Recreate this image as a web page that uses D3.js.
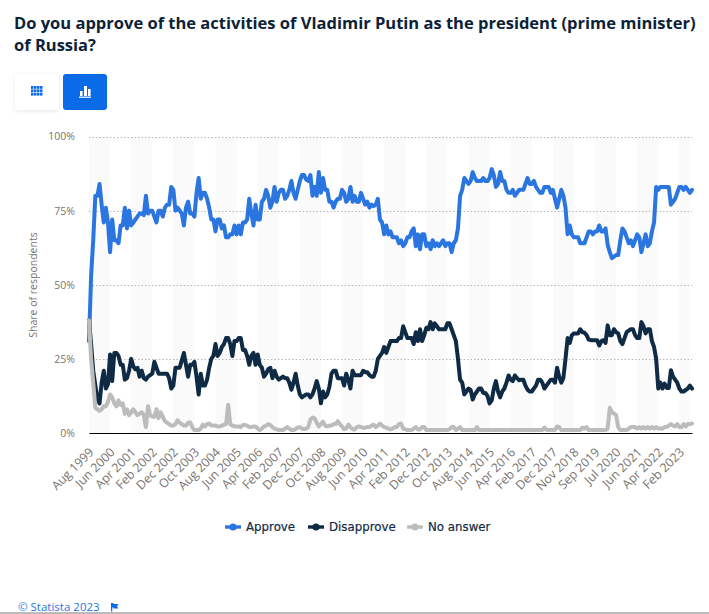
<!DOCTYPE html>
<html><head><meta charset="utf-8">
<script src="https://cdn.jsdelivr.net/npm/d3@7"></script>
<style>html,body{margin:0;padding:0;background:#fff;overflow:hidden}svg{display:block}</style>
</head><body><svg id="c" width="709" height="614"></svg>
<script>
const titleLines = ["Do you approve of the activities of Vladimir Putin as the president (prime minister)", "of Russia?"];
const tickLabels = ["Aug 1999","Jun 2000","Apr 2001","Feb 2002","Dec 2002","Oct 2003","Aug 2004","Jun 2005","Apr 2006","Feb 2007","Dec 2007","Oct 2008","Aug 2009","Jun 2010","Apr 2011","Feb 2012","Dec 2012","Oct 2013","Aug 2014","Jun 2015","Apr 2016","Feb 2017","Dec 2017","Nov 2018","Sep 2019","Jul 2020","Jun 2021","Apr 2022","Feb 2023"];
const yTicks = [0,25,50,75,100];
const approve = [
31,53,65,80,80,84,77,71,76,71,
61,72,65,65,64,70,70,76,69,75,
70,71,72,73,74,74,73.5,80,74,75,
75,73,71,75,75,73,76,77,77,83,
82,75,76,75,74,70,76,78,74,74,
73,81,86,79,81,81,79,76,72,72,
68,72,72,69,70,66,66,67,67,70,
67,70,67,71,71,72,79,74,70,77,
72,72,78,79,82,80,76,78,83,78,
81,82,82,79,80,82,85,81,79,82,
85,87,87,85.5,85,87,80,83,80,88,
81,86,82,82,78,78,76,78,79,79,
82,81,78,79,83,78,80,78,78,81,
79,77,78,76,77,76.5,77,79,72,71,
67,70,67,68,66,66,66,64,65,63,
64,66,66,68,69,63,67,62,67,67,
63,64,62,65,63,64,63,64,65,63,
64,64,61,64,65,69,80,82,86,85,
84,85,88,86,85,85,85,86,85,85,
86,89,87,83,84,88,85,85,82,81,
81,82,80,81,82,82,82,84,86,84,
84,85,83,82,81,81,83,83,83,81,
82,79,76,79,82,80,76,67,70,67,
66,66,66,64,64,64,66,68,68,67,
68,68,70,68,68,69,63.5,61,59,59.5,
60,60,65,69,68,66,64,65,63,65,
67,66,61,64,67,63,64,68,71,83,
82,83,83,83,83,83,77,78,79,81,
83,83,82,83,82,81,82];
const disapprove = [
38,30,21,16,11.5,10,17,21,15,16.5,
26.5,17.5,27,27,26,23,23,18,18.5,21,
25,22.5,21.5,22,19,21,18.5,18,19,19.5,
20,24,22,20,20,20,20,20,18.5,15,
16,22,22,22,24.5,27,23,19,23,23,
24,19,13,20,16,16,18,22,25,26,
30,26,27,29,30,32,32,30,26,31,
31,32,32,28,28,26,23,26,27,23,
26.5,23,22,19,20,21.5,22,18.5,21,19,
18,18.5,19,18.5,18.5,17,14.6,17,20,16,
13,12,12.5,13,13,12,13,15,17.5,15,
10,14,12,13,15.5,20,21,21,18.5,18.5,
18.5,16,20,18,15,21,19.5,19.5,19.5,19.5,
21,20.5,20.5,19.5,19,19,21,25,26,27,
29,27,29,31,31,31,31,32,32,36,
34,32,32,32,30,34,31,35,31,33,
35.5,35,37.4,35,37,36,35,35,35,35,
37,37,35,33,31,25,18,17,13,14,
15,14.5,11.3,13,14,15,15,13.5,13.5,12.5,
10,11,15,17.5,14,12,14,15,17,19.4,
18,17.5,19.4,18.5,17.8,18,18,16,14.6,14,
14,15,16,18,18,17,15,16,17,18,
18,17,22,19,17,18.6,25,32,30.4,33,
33.6,33.6,33.6,35,34,33.8,33,31.5,31.3,31.3,
31.3,31.3,29.5,31,31.3,30.4,36.3,33,33,35,
34,33.6,31,30,32,34,34.5,35,35,33,
32,32,37.4,36,33.6,35,35,31,29,25,
15,17,15,16.7,15.2,15.2,21.2,19,18,17,
15,14,14,14.5,15,16,15];
const noAnswer = [
38,25,17,8.5,8,7.5,8,9,9,10.5,
13,12,10,9,11,9.5,10,6.5,8,6,
7,8,7,6,6.5,7,6,2,9,6,
5.5,5.5,8,5,7,5.5,4,3.5,3,2.5,
2.5,3,4.3,3.5,3,2.5,2.5,3.5,3.5,2,
1,1,1,1.5,2.8,2.2,3,3.2,2.5,2.5,
2.5,2.2,2.2,2.5,2.8,3,9.5,3,2.5,2.3,
2.2,2.2,2,2.7,2.7,2.5,2,2,2.2,2.2,
1.5,1,1.5,2.2,2.5,3,2.7,2,1.5,1.2,
1,1,1,1.5,2,1.5,1,1,1.3,1.8,
2,1.5,1.3,1.5,2,4.5,5.2,5,3.5,2.2,
3,3.8,2.5,2.2,2.5,2.5,3,3,4,3,
2.2,1.3,1.5,2.8,2,1.3,1.2,2,2.2,2,
1.8,1.8,2,2,2.5,2.8,2,2.5,3.2,2.5,
2,1.8,1.5,1.2,1.5,2,2,3,3.2,1.5,
1.2,1,1,1,1.5,2,1.2,1.2,2,2,
1,1,1,1,1,1,1,1,1,1,
1,1.3,2,2,1,1.5,2,1,1,1,
1,1,1,1,2,1,1,1,1,1,
1,1,1,1,1,1,1,1,1,1,
1,1,1,1,1,1,1,1,1,1,
1,1,1,1,1,1,1.8,1,1,1,
1,1,2.2,2,1,1,1,1,1,1,
1,1,1,1,1.8,1.5,2,1,1,1,
1,1,1,1,1,1,1.5,8.5,7,6.5,
6,2,1,1,1,1,1.5,2,2,2,
1.5,2,1.5,2,1.5,2,1.5,2,1.5,2,
1.5,1.5,1.5,2,2,2.5,3,2.5,2.2,3,
2,2,3,2.2,3,3,3.2];
const seriesNames = ["Approve","Disapprove","No answer"];
const seriesColors = ["#2a75e0","#0f2a44","#bcbcbc"];
const seriesData = [approve,disapprove,noAnswer];
const tickStep = 10;

const svg = d3.select("#c");
const x = d3.scaleLinear().domain([0,approve.length-1]).range([89,692]);
const y = d3.scaleLinear().domain([0,100]).range([433,136.5]);

svg.selectAll(".t").data(titleLines).join("text")
  .attr("x",14).attr("y",(d,i)=>29+i*22)
  .attr("font-family","'Open Sans'").attr("font-weight",700).attr("font-size",16.5).attr("fill","#0c2238").text(d=>d);

// view toggle buttons
const defs = svg.append("defs");
const f = defs.append("filter").attr("id","sh").attr("x","-20%").attr("y","-20%").attr("width","140%").attr("height","140%");
f.append("feDropShadow").attr("dx",0).attr("dy",1).attr("stdDeviation",2).attr("flood-color","#000").attr("flood-opacity",.1);
svg.append("rect").attr("x",15).attr("y",74).attr("width",44).attr("height",36).attr("rx",3).attr("fill","#fff").attr("filter","url(#sh)");
svg.append("rect").attr("x",63).attr("y",74).attr("width",44).attr("height",36).attr("rx",3).attr("fill","#0a6be8");
const gridIcon = svg.append("g").attr("fill","#0a6be8");
d3.range(3).forEach(r=>d3.range(4).forEach(c=>gridIcon.append("rect").attr("x",31+c*3).attr("y",86+r*3.4).attr("width",2.5).attr("height",2.8)));
const barIcon = svg.append("g").attr("fill","#fff");
[[80,91,2.6,5],[84,86,3,10],[88,89,2.6,7]].forEach(b=>barIcon.append("rect").attr("x",b[0]).attr("y",b[1]).attr("width",b[2]).attr("height",b[3]));
barIcon.append("rect").attr("x",79).attr("y",96.5).attr("width",12).attr("height",1.5).attr("opacity",.8);

// alternating bands
const bandIdx = d3.range(0,tickLabels.length,2);
svg.selectAll(".band").data(bandIdx).join("rect")
  .attr("x",d=>x(d*tickStep)).attr("y",y(100))
  .attr("width",d=>Math.min(x((d+1)*tickStep),690)-x(d*tickStep)).attr("height",y(0)-y(100))
  .attr("fill","#fafafa");

// y axis
const yAxis = d3.axisLeft(y).tickValues(yTicks).tickSize(0).tickPadding(14).tickFormat(d=>d+"%");
const gy = svg.append("g").attr("transform","translate(89,0)").call(yAxis);
gy.select(".domain").remove();
gy.selectAll("text").attr("font-family","'Open Sans'").attr("font-size",10.5).attr("fill","#7a7470");
svg.selectAll(".grid").data(yTicks.filter(d=>d>0)).join("line")
  .attr("x1",89).attr("x2",692).attr("y1",d=>Math.round(y(d))+.5).attr("y2",d=>Math.round(y(d))+.5)
  .attr("stroke","#b8b8b8").attr("stroke-width",1).attr("stroke-dasharray","1.5 2");
svg.append("text").attr("transform","translate(37,285) rotate(-90)").attr("text-anchor","middle")
  .attr("font-family","'Open Sans'").attr("font-size",10.5).attr("fill","#7a7470").text("Share of respondents");

// x axis
const xAxis = d3.axisBottom(x).tickValues(tickLabels.map((d,i)=>i*tickStep)).tickSize(0).tickFormat(d=>tickLabels[d/tickStep]);
const gx = svg.append("g").attr("transform","translate(0,433)").call(xAxis);
gx.select(".domain").attr("stroke","#000").attr("stroke-width",1.2);
gx.selectAll("text").attr("font-family","'Open Sans'").attr("font-size",12.3).attr("fill","#7a7470")
  .attr("text-anchor","end").attr("dy",0).attr("y",0)
  .attr("transform","translate(5,20) rotate(-45)");

// lines
const line = d3.line().x((d,i)=>x(i)).y(d=>y(d)).curve(d3.curveLinear);
svg.selectAll(".s").data(seriesData).join("path")
  .attr("d",line).attr("fill","none").attr("stroke",(d,i)=>seriesColors[i])
  .attr("stroke-width",4).attr("stroke-linejoin","round").attr("stroke-linecap","round");

// legend
const legX = [225,308,407], legT=[246,329,428];
seriesNames.forEach((n,i)=>{
  svg.append("line").attr("x1",legX[i]).attr("x2",legX[i]+16).attr("y1",527).attr("y2",527).attr("stroke",seriesColors[i]).attr("stroke-width",3.4);
  svg.append("circle").attr("cx",legX[i]+8).attr("cy",527).attr("r",3.6).attr("fill",seriesColors[i]);
  svg.append("text").attr("x",legT[i]).attr("y",531).attr("font-family","'DejaVu Sans'").attr("font-size",11.8).attr("fill","#0f2a44").attr("stroke","#0f2a44").attr("stroke-width",.2).text(n);
});

// footer
svg.append("text").attr("x",18).attr("y",611).attr("font-family","'Open Sans'").attr("font-size",11.5).attr("fill","#2a75e0").text("© Statista 2023");
svg.append("path").attr("d","M111 603h2.5v1h5l-1.5 2.2 1.5 2.3h-5v-1h-1.2v4h-1.3z").attr("fill","#0a6be8");
svg.append("line").attr("x1",0).attr("x2",709).attr("y1",613).attr("y2",613).attr("stroke","#777").attr("stroke-width",1);
</script></body></html>
